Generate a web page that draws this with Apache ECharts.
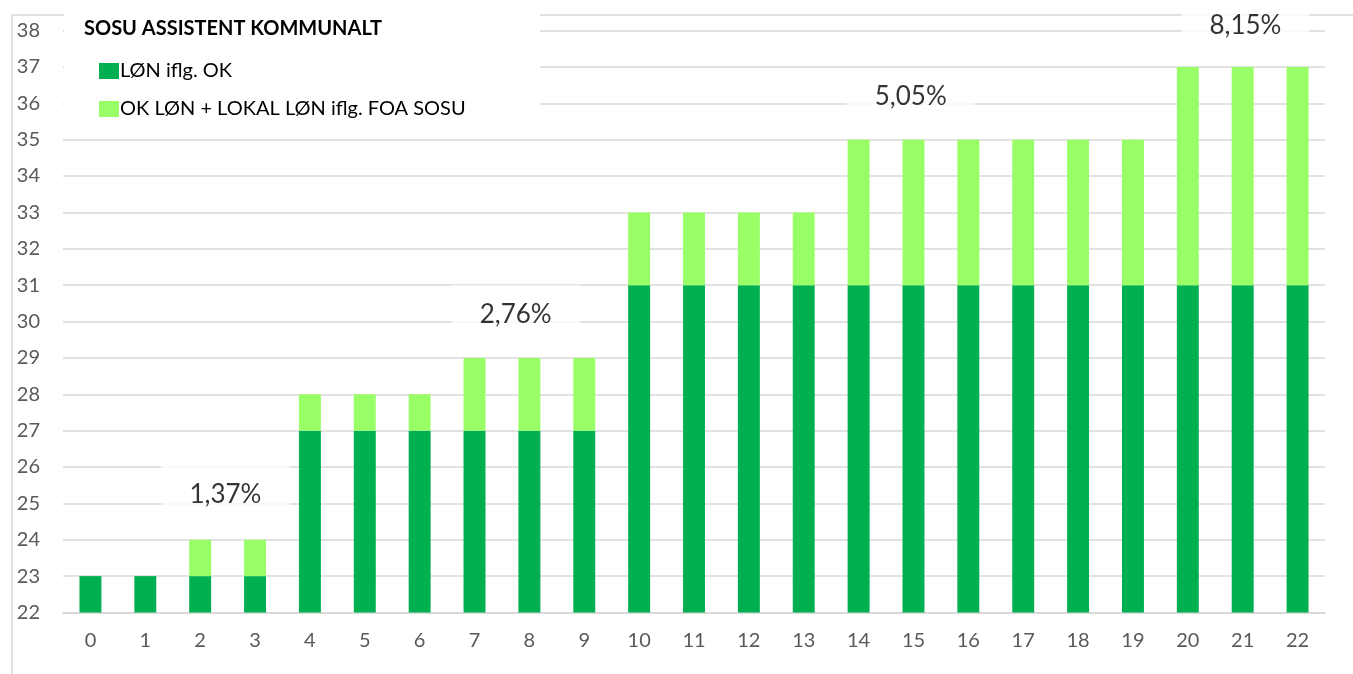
<!DOCTYPE html>
<html>
<head>
<meta charset="utf-8">
<script src="https://cdn.jsdelivr.net/npm/echarts@6/dist/echarts.min.js"></script>
<style>
  html, body { margin: 0; padding: 0; background: #fff; }
  #chart { width: 1353px; height: 674px; }
</style>
</head>
<body>
<div id="chart"></div>
<script>
const categories = ["0","1","2","3","4","5","6","7","8","9","10","11","12","13","14","15","16","17","18","19","20","21","22"];
const lonOK = [23,23,23,23,27,27,27,27,27,27,31,31,31,31,31,31,31,31,31,31,31,31,31];
const lokalLon = [0,0,1,1,1,1,1,2,2,2,2,2,2,2,4,4,4,4,4,4,6,6,6];
const noteX = [2.46, 7.75, 14.95, 21.05];
const noteY = [25.28, 30.23, 36.2, 38.15];
const noteText = ["1,37%", "2,76%", "5,05%", "8,15%"];

const font = "Lato, 'Open Sans', sans-serif";
let myChart = echarts.init(document.getElementById("chart"));

let option = {
  animation: false,
  textStyle: { fontFamily: font },
  title: {
    text: "SOSU ASSISTENT KOMMUNALT",
    left: 84,
    top: 19,
    padding: 0,
    textStyle: { fontSize: 20, fontWeight: "bold", color: "#000", fontFamily: font },
  },
  legend: {
    orient: "vertical",
    left: 99,
    top: 61,
    padding: 0,
    itemWidth: 20,
    itemHeight: 16,
    itemGap: 18,
    textStyle: { fontSize: 20, color: "#000", padding: [0, 0, 0, -4], fontFamily: font },
    data: [
      { name: "LØN iflg. OK", icon: "rect" },
      { name: "OK LØN + LOKAL LØN iflg. FOA SOSU", icon: "rect" },
    ],
  },
  graphic: [
    {
      type: "rect",
      z: 1,
      silent: true,
      shape: { x: 12, y: 15, width: 1500, height: 800 },
      style: { fill: "none", stroke: "#d9d9d9", lineWidth: 1.5 },
    },
    {
      type: "rect",
      z: 3,
      silent: true,
      shape: { x: 64, y: 0, width: 476, height: 124 },
      style: { fill: "#fff" },
    },
  ],
  grid: { left: 63, right: 28, top: 30.5, bottom: 61.5 },
  xAxis: [
    {
      type: "category",
      data: categories,
      axisTick: { show: false },
      axisLine: { lineStyle: { color: "#d9d9d9", width: 2 } },
      axisLabel: { fontSize: 20, color: "#595959", margin: 18, fontFamily: font },
    },
    { type: "value", min: -0.5, max: 22.5, show: false },
  ],
  yAxis: {
    type: "value",
    min: 22,
    max: 38,
    interval: 1,
    axisLine: { show: false },
    axisTick: { show: false },
    axisLabel: { fontSize: 20, color: "#595959", margin: 23, fontFamily: font },
    splitLine: { lineStyle: { color: "#d9d9d9", width: 1.5 } },
  },
  series: [
    {
      name: "LØN iflg. OK",
      type: "bar",
      stack: "lon",
      barWidth: "40%",
      itemStyle: { color: "#00B050" },
      data: lonOK,
    },
    {
      name: "OK LØN + LOKAL LØN iflg. FOA SOSU",
      type: "bar",
      stack: "lon",
      barWidth: "40%",
      itemStyle: { color: "#99FF66" },
      data: lokalLon,
    },
    {
      type: "scatter",
      xAxisIndex: 1,
      symbolSize: 0,
      clip: false,
      silent: true,
      label: {
        show: true,
        position: "inside",
        formatter: "{b}",
        fontSize: 26,
        color: "#000",
        fontFamily: font,
        backgroundColor: "#fff",
        padding: [26, 28, 6, 28],
        offset: [0, 1],
      },
      data: noteX.map((x, i) => ({ name: noteText[i], value: [x, noteY[i]] })),
    },
  ],
};

myChart.setOption(option);
window.addEventListener("resize", myChart.resize);
</script>
</body>
</html>
